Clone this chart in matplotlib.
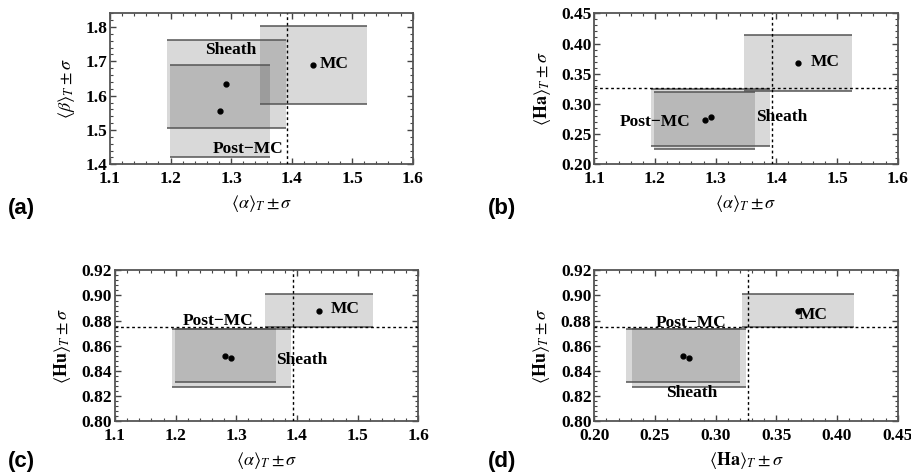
import numpy as np
import matplotlib
matplotlib.use('Agg')
import matplotlib.pyplot as plt
from matplotlib.patches import Rectangle
from matplotlib.ticker import AutoMinorLocator

plt.rcParams['font.family'] = 'Liberation Serif'
plt.rcParams['mathtext.fontset'] = 'stix'

# region means and standard deviations
regions = ['MC', 'Sheath', 'Post\u2212MC']
alpha_mean = [1.436, 1.292, 1.282]
alpha_sd = [0.089, 0.098, 0.083]
beta_mean = [1.689, 1.634, 1.555]
beta_sd = [0.114, 0.127, 0.133]
ha_mean = [0.368, 0.278, 0.273]
ha_sd = [0.046, 0.047, 0.047]
hu_mean = [0.888, 0.850, 0.852]
hu_sd = [0.013, 0.023, 0.021]

# threshold lines
alpha_thr = 1.393
ha_thr = 0.327
hu_thr = 0.875

# tick labels
alpha_ticks = ['1.1', '1.2', '1.3', '1.4', '1.5', '1.6']
beta_ticks = ['1.4', '1.5', '1.6', '1.7', '1.8']
ha_ticks = ['0.20', '0.25', '0.30', '0.35', '0.40', '0.45']
hu_ticks = ['0.80', '0.82', '0.84', '0.86', '0.88', '0.90', '0.92']

xlab_alpha = r'$\langle\alpha\rangle_T\pm\sigma$'
xlab_ha = r'$\langle\mathbf{Ha}\rangle_T\pm\sigma$'
ylab_beta = r'$\langle\beta\rangle_T\pm\sigma$'
ylab_ha = r'$\langle\mathbf{Ha}\rangle_T\pm\sigma$'
ylab_hu = r'$\langle\mathbf{Hu}\rangle_T\pm\sigma$'

W, H = 912, 475
fig = plt.figure(figsize=(W / 100, H / 100), dpi=100)


def make_ax(left, top, right, bottom):
    return fig.add_axes([left / W, 1 - bottom / H, (right - left) / W, (bottom - top) / H])


def panel(ax, xm, xs, ym, ys, xthr, ythr, xlim, ylim, xt, yt, xlab, ylab, lab_pos):
    for i in range(len(regions)):
        x0 = xm[i] - xs[i]
        y0 = ym[i] - ys[i]
        ax.add_patch(Rectangle((x0, y0), 2 * xs[i], 2 * ys[i], facecolor='black',
                               alpha=0.15, edgecolor='none', zorder=1))
        ax.hlines([y0, y0 + 2 * ys[i]], x0, x0 + 2 * xs[i], color='#555555', lw=1.1, zorder=2)
        ax.plot(xm[i], ym[i], 'o', color='black', ms=3.5, zorder=4)
        tx, ty = lab_pos[i]
        ax.text(tx, ty, regions[i], ha='center', va='center', fontsize=12.5,
                fontweight='bold', zorder=5)
    if xthr is not None:
        ax.axvline(xthr, color='black', lw=1, ls=(0, (2, 2)), zorder=3)
    if ythr is not None:
        ax.axhline(ythr, color='black', lw=1, ls=(0, (2, 2)), zorder=3)
    ax.set_xlim(xlim)
    ax.set_ylim(ylim)
    ax.set_xticks([float(t) for t in xt])
    ax.set_xticklabels(xt, fontweight='bold')
    ax.set_yticks([float(t) for t in yt])
    ax.set_yticklabels(yt, fontweight='bold')
    ax.xaxis.set_minor_locator(AutoMinorLocator(5))
    ax.yaxis.set_minor_locator(AutoMinorLocator(5))
    ax.tick_params(which='both', direction='in', top=True, right=True, color='#444444')
    ax.tick_params(which='major', length=4, width=1, labelsize=12.5)
    ax.tick_params(axis='x', which='major', pad=5)
    ax.tick_params(axis='y', which='major', pad=2)
    ax.tick_params(which='minor', length=2, width=0.8)
    for sp in ax.spines.values():
        sp.set_color('#555555')
        sp.set_linewidth(1.3)
    ax.set_xlabel(xlab, fontsize=13, labelpad=4)
    ax.set_ylabel(ylab, fontsize=13, labelpad=6)


ax_a = make_ax(110, 13.3, 412.7, 164.3)
panel(ax_a, alpha_mean, alpha_sd, beta_mean, beta_sd, alpha_thr, None,
      (1.1, 1.6), (1.4, 1.84), alpha_ticks, beta_ticks, xlab_alpha, ylab_beta,
      [(1.471, 1.693), (1.299, 1.734), (1.328, 1.446)])

ax_b = make_ax(594.3, 13.3, 897.7, 164.3)
panel(ax_b, alpha_mean, alpha_sd, ha_mean, ha_sd, alpha_thr, ha_thr,
      (1.1, 1.6), (0.2, 0.45), alpha_ticks, ha_ticks, xlab_alpha, ylab_ha,
      [(1.480, 0.370), (1.409, 0.279), (1.2005, 0.270)])

ax_c = make_ax(115, 270.3, 418.3, 421.3)
panel(ax_c, alpha_mean, alpha_sd, hu_mean, hu_sd, alpha_thr, hu_thr,
      (1.1, 1.6), (0.8, 0.92), alpha_ticks, hu_ticks, xlab_alpha, ylab_hu,
      [(1.479, 0.8895), (1.408, 0.849), (1.270, 0.8797)])

ax_d = make_ax(594.3, 270.3, 897.7, 421.3)
panel(ax_d, ha_mean, ha_sd, hu_mean, hu_sd, ha_thr, hu_thr,
      (0.2, 0.45), (0.8, 0.92), ha_ticks, hu_ticks, xlab_ha, ylab_hu,
      [(0.380, 0.8842), (0.2802, 0.8225), (0.2797, 0.878)])

for lab, (px, py) in zip(['(a)', '(b)', '(c)', '(d)'],
                         [(8, 208), (488, 208), (8, 462), (488, 462)]):
    fig.text(px / W, 1 - py / H, lab, ha='left', va='center', fontsize=16,
             fontweight='bold', family='Liberation Sans')

fig.savefig('out.png', dpi=100)
